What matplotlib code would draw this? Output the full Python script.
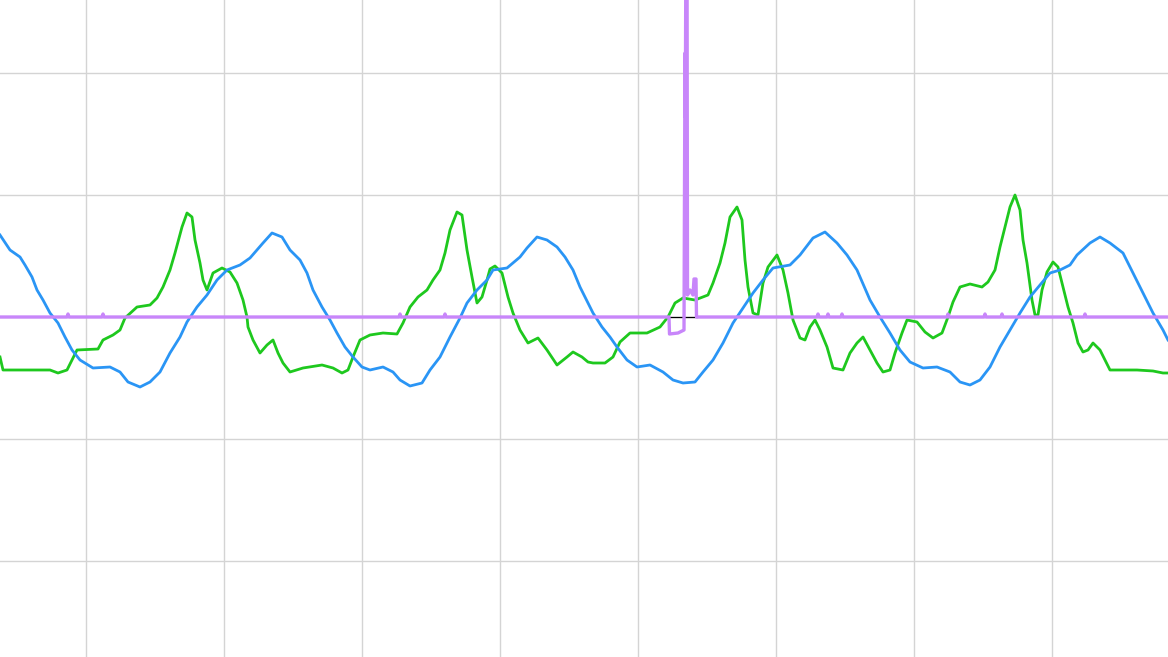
import matplotlib
matplotlib.use("Agg")
import matplotlib.pyplot as plt
import numpy as np

# time in samples relative to trigger, amplitude in ADC counts relative to baseline
X_DIV = 138   # samples per horizontal division
Y_DIV = 122   # counts per vertical division
T_MIN, T_MAX = -638, 530
V_MIN, V_MAX = -340, 317

blue_t = [-638, -628, -618, -613, -606, -601, -595, -588, -580, -573, -566, -558, -545, -528, -518, -510,
          -498, -488, -478, -468, -458, -451, -441, -431, -421, -411, -398, -388, -375, -366, -356, -348,
          -338, -331, -325, -316, -308, -301, -293, -285, -276, -268, -255, -245, -238, -228, -216, -208,
          -198, -188, -178, -171, -161, -151, -145, -131, -118, -111, -101, -91, -81, -73, -65, -58,
          -50, -45, -36, -28, -21, -11, -1, 12, 25, 35, 45, 57, 65, 75, 85, 95,
          105, 115, 125, 135, 152, 162, 175, 187, 199, 209, 219, 232, 242, 252, 262, 272,
          285, 299, 312, 322, 332, 342, 352, 362, 372, 382, 392, 402, 412, 422, 432, 439,
          452, 462, 472, 485, 495, 505, 515, 525, 530]
blue_v = [82, 67, 60, 52, 40, 27, 17, 4, -6, -20, -33, -43, -51, -50, -55, -65,
          -70, -65, -55, -36, -20, -5, 10, 22, 37, 47, 52, 59, 74, 84, 80, 67,
          57, 44, 27, 10, -3, -16, -30, -40, -50, -53, -50, -55, -63, -69, -66, -53,
          -40, -20, -1, 14, 27, 37, 47, 49, 60, 69, 80, 77, 70, 60, 47, 30,
          14, 4, -10, -20, -30, -43, -50, -48, -55, -63, -66, -65, -55, -43, -26, -6,
          9, 24, 37, 49, 52, 62, 79, 85, 74, 62, 47, 17, 0, -16, -33, -45,
          -51, -50, -55, -65, -68, -63, -50, -30, -13, 4, 20, 32, 44, 47, 52, 62,
          74, 80, 74, 64, 44, 24, 4, -13, -23]

green_t = [-638, -635, -621, -588, -580, -571, -566, -561, -540, -535, -525, -518, -513, -501, -488, -481,
           -475, -468, -463, -456, -451, -446, -443, -438, -435, -431, -425, -416, -408, -401, -395, -391,
           -390, -385, -378, -371, -365, -360, -355, -348, -335, -316, -305, -296, -290, -285, -278, -268,
           -255, -241, -235, -228, -220, -211, -205, -198, -193, -188, -181, -176, -171, -166, -161, -156,
           -151, -148, -143, -136, -130, -125, -118, -110, -100, -91, -81, -71, -65, -56, -50, -45,
           -33, -25, -18, -8, 9, 22, 30, 37, 45, 57, 70, 75, 82, 87, 92, 99,
           104, 107, 110, 115, 120, 125, 130, 139, 145, 150, 155, 162, 167, 172, 177, 182,
           189, 195, 205, 212, 219, 225, 232, 239, 245, 252, 257, 264, 269, 279, 287, 295,
           304, 310, 315, 322, 332, 344, 350, 357, 362, 367, 372, 377, 382, 385, 389, 394,
           397, 400, 404, 409, 415, 420, 425, 430, 435, 440, 445, 450, 455, 462, 467, 472,
           485, 499, 515, 525, 530]
green_v = [-40, -53, -53, -53, -56, -53, -43, -33, -32, -23, -18, -13, -1, 10, 12, 19,
           30, 47, 64, 90, 104, 100, 77, 54, 37, 27, 44, 49, 45, 34, 17, 0,
           -10, -23, -36, -28, -23, -36, -46, -55, -51, -48, -51, -56, -53, -40, -23, -18,
           -16, -17, -6, 10, 20, 27, 37, 47, 64, 87, 105, 102, 67, 40, 14, 20,
           37, 48, 51, 44, 20, 4, -13, -26, -21, -33, -48, -40, -35, -40, -45, -46,
           -46, -40, -25, -16, -16, -10, 0, 14, 19, 17, 22, 34, 54, 74, 100, 110,
           97, 57, 30, 4, 2, 34, 50, 62, 47, 24, -3, -21, -23, -10, -3, -13,
           -30, -51, -53, -36, -26, -20, -33, -46, -55, -53, -36, -16, -3, -5, -15, -21,
           -16, 0, 15, 30, 33, 30, 35, 47, 70, 90, 110, 122, 107, 77, 54, 17,
           2, 2, 27, 45, 55, 50, 30, 10, -6, -26, -35, -33, -26, -33, -43, -53,
           -53, -53, -54, -56, -56]

purple_t = [-638, -571, -570, -569, -536, -535, -534, -239, -238, -237, -194, -193, -192,
            31, 31.5, 40, 46, 47, 47.3, 48, 49, 49.5, 52, 55, 56, 58, 58.5,
            179, 180, 181, 189, 190, 191, 203, 204, 205, 309, 310, 311, 346, 347, 348,
            363, 364, 365, 446, 447, 448, 530]
purple_v = [0, 0, 3, 0, 0, 3, 0, 0, 3, 0, 0, 3, 0,
            0, -17, -16, -13, 264, 200, 400, 400, 22, 27, 22, 38, 38, 0,
            0, 3, 0, 0, 3, 0, 0, 3, 0, 0, 3, 0, 0, 3, 0,
            0, 3, 0, 0, 3, 0, 0]

marker_t = [32, 59]
marker_v = [0, 0]

fig = plt.figure(figsize=(11.68, 6.57), dpi=100)
ax = fig.add_axes([0, 0, 1, 1])
ax.set_xlim(T_MIN, T_MAX)
ax.set_ylim(V_MIN, V_MAX)
ax.set_xticks(np.arange(-4, 4) * X_DIV)
ax.set_yticks(np.arange(-2, 3) * Y_DIV)
ax.grid(True, color="#d4d4d4", linewidth=1.0)
ax.set_axisbelow(True)
ax.tick_params(left=False, bottom=False, labelleft=False, labelbottom=False)
for s in ax.spines.values():
    s.set_visible(False)

ax.plot(green_t, green_v, color="#1ec81e", linewidth=2.0, zorder=3)
ax.plot(blue_t, blue_v, color="#2a95f5", linewidth=2.0, zorder=4)
ax.plot(marker_t, marker_v, color="black", linewidth=0.9, zorder=4.5)
ax.plot(purple_t, purple_v, color="#c886fa", linewidth=2.4, zorder=5)

fig.savefig("out.png", dpi=100)
